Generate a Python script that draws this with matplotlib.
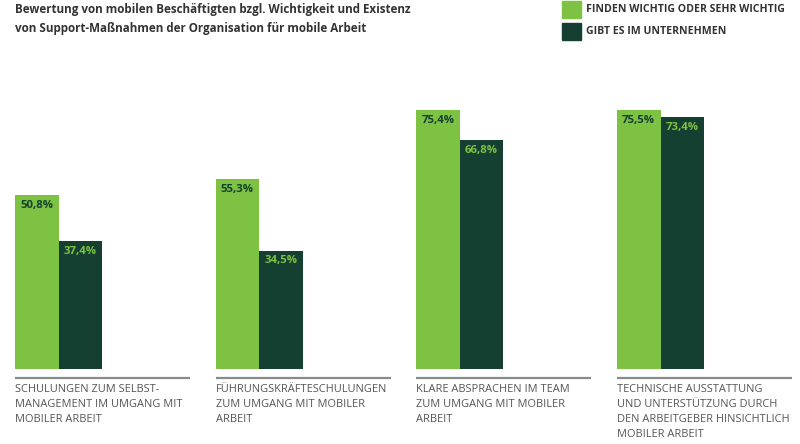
import matplotlib
matplotlib.use("Agg")
import matplotlib.pyplot as plt
import numpy as np

categories = [
    "SCHULUNGEN ZUM SELBST-\nMANAGEMENT IM UMGANG MIT\nMOBILER ARBEIT",
    "FÜHRUNGSKRÄFTESCHULUNGEN\nZUM UMGANG MIT MOBILER\nARBEIT",
    "KLARE ABSPRACHEN IM TEAM\nZUM UMGANG MIT MOBILER\nARBEIT",
    "TECHNISCHE AUSSTATTUNG\nUND UNTERSTÜTZUNG DURCH\nDEN ARBEITGEBER HINSICHTLICH\nMOBILER ARBEIT",
]
wichtig = [50.8, 55.3, 75.4, 75.5]
gibt_es = [37.4, 34.5, 66.8, 73.4]
series_names = ["FINDEN WICHTIG ODER SEHR WICHTIG", "GIBT ES IM UNTERNEHMEN"]
title = ("Bewertung von mobilen Beschäftigten bzgl. Wichtigkeit und Existenz\n"
         "von Support-Maßnahmen der Organisation für mobile Arbeit")

light = "#7dc242"
dark = "#153f30"
grey = "#555555"

plt.rcParams["font.family"] = ["Open Sans", "DejaVu Sans"]

W, H = 800, 444
fig = plt.figure(figsize=(8, 4.44), dpi=100)

# axes in pixel terms: baseline at y=369, 100% = 343 px
pitch = 200.7
ax = fig.add_axes([0, (H - 369) / H, 1, 343 / H])
ax.set_xlim(-15 / pitch, (W - 15) / pitch)
ax.set_ylim(0, 100)
ax.axis("off")

bw = 43.5 / pitch
x = np.arange(len(categories))
ax.bar(x, wichtig, width=bw, align="edge", color=light)
ax.bar(x + bw, gibt_es, width=bw, align="edge", color=dark)

for i in range(len(categories)):
    ax.text(x[i] + 5 / pitch, wichtig[i] - 1.4, f"{wichtig[i]:.1f}%".replace(".", ","),
            ha="left", va="top", fontsize=8.2, fontweight="bold", color=dark)
    ax.text(x[i] + bw + 5 / pitch, gibt_es[i] - 1.4, f"{gibt_es[i]:.1f}%".replace(".", ","),
            ha="left", va="top", fontsize=8.2, fontweight="bold", color=light)
    ax.plot([x[i], x[i] + 175 / pitch], [-2.6, -2.6], color="#8a8a8a", lw=1.6,
            clip_on=False, solid_capstyle="butt")
    ax.text(x[i], -4.3, categories[i], ha="left", va="top", fontsize=7.9,
            color=grey, linespacing=1.5)

fig.text(15 / W, 1 - 3 / H, title, ha="left", va="top", fontsize=8.4,
         fontweight="bold", color="#333333", linespacing=1.6)

# legend
for j, (name, c) in enumerate(zip(series_names, [light, dark])):
    y0 = 1 + 22 * j
    fig.patches.append(plt.Rectangle((562 / W, 1 - (y0 + 17) / H), 19 / W, 17 / H,
                                     transform=fig.transFigure, color=c))
    fig.text(586 / W, 1 - (y0 + 9) / H, name, ha="left", va="center",
             fontsize=7.6, fontweight="bold", color="#333333")

fig.savefig("out.png", dpi=100)
